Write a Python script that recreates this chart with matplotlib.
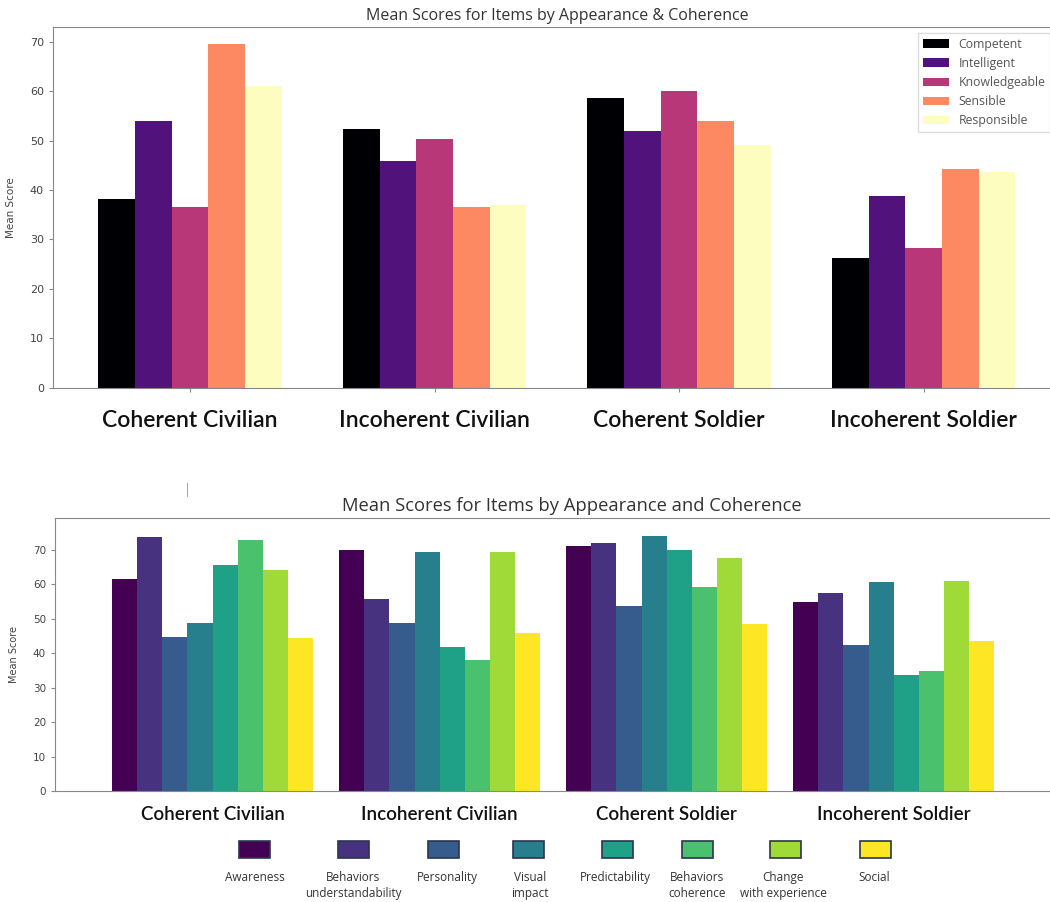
import numpy as np
import matplotlib.pyplot as plt
from matplotlib.patches import Rectangle
from matplotlib.lines import Line2D

# Datos
groups = ["Coherent Civilian", "Incoherent Civilian", "Coherent Soldier", "Incoherent Soldier"]

items_top = ["Competent", "Intelligent", "Knowledgeable", "Sensible", "Responsible"]
competent = [38.1, 52.4, 58.5, 26.3]
intelligent = [53.9, 45.8, 52.0, 38.7]
knowledgeable = [36.5, 50.4, 60.0, 28.3]
sensible = [69.5, 36.5, 54.0, 44.3]
responsible = [61.1, 36.9, 49.1, 43.7]
top_values = [competent, intelligent, knowledgeable, sensible, responsible]

items_bottom = ["Awareness", "Behaviors\nunderstandability", "Personality", "Visual\nimpact",
                "Predictability", "Behaviors\ncoherence", "Change\nwith experience", "Social"]
awareness = [61.5, 70.0, 71.3, 54.8]
behav_underst = [73.7, 55.9, 72.1, 57.6]
personality = [44.8, 48.9, 53.8, 42.4]
visual_impact = [48.8, 69.4, 74.1, 60.8]
predictability = [65.6, 41.9, 70.1, 33.6]
behav_coherence = [72.8, 38.1, 59.4, 35.0]
change_exp = [64.2, 69.3, 67.6, 61.0]
social = [44.5, 45.8, 48.5, 43.7]
bottom_values = [awareness, behav_underst, personality, visual_impact,
                 predictability, behav_coherence, change_exp, social]

W, H = 1050, 902
fig = plt.figure(figsize=(W / 100, H / 100), dpi=100)

def px_axes(left, top, right, bottom):
    return fig.add_axes([left / W, 1 - bottom / H, (right - left) / W, (bottom - top) / H])

x = np.arange(len(groups))
spine_col = "#888888"
tick_col = "#444444"

# ---------- Gráfica superior (magma) ----------
ax1 = px_axes(53, 27.3, 1062, 387.7)
colors1 = plt.cm.magma(np.linspace(0, 1, len(items_top)))
w1 = 0.15
for i, vals in enumerate(top_values):
    ax1.bar(x + (i - 2) * w1, vals, w1, color=colors1[i], label=items_top[i])
ax1.set_xlim(-0.561, 3.566)
ax1.set_ylim(0, 72.9)
ax1.set_yticks(range(0, 71, 10))
ax1.set_xticks(x)
ax1.set_xticklabels(groups, fontsize=16.5, family="Lato", weight="semibold", color="#111111")
ax1.tick_params(axis="x", length=3, pad=13, color=spine_col)
ax1.tick_params(axis="y", labelsize=8, labelcolor=tick_col, length=3, color=spine_col)
ax1.set_ylabel("Mean Score", fontsize=7.5, color=tick_col, labelpad=10)
ax1.set_title("Mean Scores for Items by Appearance & Coherence", fontsize=11.5,
              family="Open Sans", color="#333333", pad=5)
for s in ax1.spines.values():
    s.set_color(spine_col)
leg = ax1.legend(loc="upper left", bbox_to_anchor=(918 / W, 1 - 33 / H),
                 bbox_transform=fig.transFigure, handlelength=2.1,
                 labelspacing=0.5, borderaxespad=0, framealpha=1, fancybox=False,
                 edgecolor="#dddddd", prop={"family": "Open Sans", "size": 8.8})
for t in leg.get_texts():
    t.set_color("#555555")

# ---------- Gráfica inferior (viridis) ----------
ax2 = px_axes(55, 517.7, 1062, 791)
colors2 = plt.cm.viridis(np.linspace(0, 1, len(items_bottom)))
w2 = 0.1107
for i, vals in enumerate(bottom_values):
    ax2.bar(x + (i - 3.5) * w2, vals, w2, color=colors2[i])
ax2.set_xlim(-0.694, 3.741)
ax2.set_ylim(0, 79.4)
ax2.set_yticks(range(0, 71, 10))
ax2.set_xticks(x)
ax2.set_xticklabels(groups, fontsize=13.5, family="Lato", weight="semibold", color="#111111")
ax2.tick_params(axis="x", length=0, pad=11)
ax2.tick_params(axis="y", labelsize=7.5, labelcolor=tick_col, length=3, color=spine_col)
ax2.set_ylabel("Mean Score", fontsize=7, color=tick_col, labelpad=10)
ax2.set_title("Mean Scores for Items by Appearance and Coherence", fontsize=13.2,
              family="Open Sans", color="#333333", pad=5, x=0.513)
for s in ax2.spines.values():
    s.set_color(spine_col)

# Leyenda inferior (cajas con texto debajo)
box_x = [254, 353, 443, 528, 617, 697, 785, 875]
text_x = [255, 353, 447, 530, 615, 697, 783, 874]
for i, lab in enumerate(items_bottom):
    fig.add_artist(Rectangle(((box_x[i] - 15.5) / W, 1 - 858 / H), 31 / W, 17 / H,
                             transform=fig.transFigure, facecolor=colors2[i],
                             edgecolor="#2a3550", linewidth=1.2))
    fig.text(text_x[i] / W, 1 - 871 / H, lab, ha="center", va="top", fontsize=8.5,
             family="Open Sans", color="#333333", linespacing=1.3)

# Marca suelta entre gráficas
fig.add_artist(Line2D([187 / W, 187 / W], [1 - 483 / H, 1 - 496 / H],
                      transform=fig.transFigure, color="#aaaaaa", linewidth=0.8))

plt.savefig("out.png", dpi=100)
